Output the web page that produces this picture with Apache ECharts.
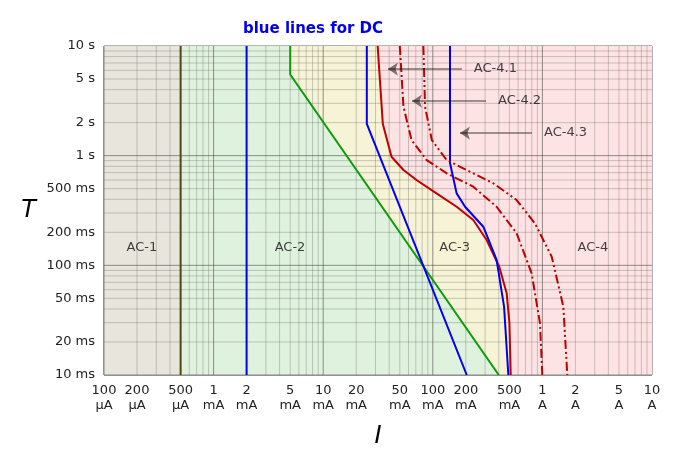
<!DOCTYPE html>
<html><head><meta charset="utf-8">
<script src="https://cdn.jsdelivr.net/npm/echarts@6/dist/echarts.min.js"></script>
<style>html,body{margin:0;background:#fff}#c{width:680px;height:458px}</style></head>
<body><div id="c"></div>
<script>
// current in mA, time in ms
const xTickVals = [0.1,0.2,0.5,1,2,5,10,20,50,100,200,500,1000,2000,5000,10000];
const xTickLabels = ['100\nµA','200\nµA','500\nµA','1\nmA','2\nmA','5\nmA','10\nmA','20\nmA','50\nmA','100\nmA','200\nmA','500\nmA','1\nA','2\nA','5\nA','10\nA'];
const yTickVals = [10,20,50,100,200,500,1000,2000,5000,10000];
const yTickLabels = ['10 ms','20 ms','50 ms','100 ms','200 ms','500 ms','1 s','2 s','5 s','10 s'];

const lineA = [[0.5,10],[0.5,10000]];
const curveB = [[5,10000],[5,5500],[400,10]];
const dcA = [[2,10],[2,10000]];
const dcB = [[25,10000],[25,1950],[204,10]];
const curveC1 = [[31.4,10000],[35,1940],[42,977],[54,740],[71,600],[108,453],[165,342],[234,259],[310,170],[404,97],[472,55.6],[500,30],[514,10]];
const dcC = [[143.5,10000],[143.5,856],[165,453],[197,342],[289,225],[382,112],[447,42],[489,10]];
const curveC2 = [[50,10000],[54,2793],[64,1387],[88,912],[134,690],[234,521],[382,342],[582,196],[798,84.6],[951,29.6],[998,10]];
const curveC3 = [[82,10000],[85,2793],[98,1387],[134,912],[204,740],[357,559],[582,394],[855,241],[1216,120],[1553,42],[1687,10]];

const zoneLabels = [['AC-1',0.222,144],['AC-2',4.98,144],['AC-3',158,144],['AC-4',2890,144]];
const arrows = [['AC-4.1',184,39,6155],['AC-4.2',306,64.6,3147],['AC-4.3',804,177,1607]];

const zoneColors = ['#e8e6dc','#dff2dd','#f7f3d6','#fde3e3'];
const zone1 = [[0.1,10],[0.5,10],[0.5,10000],[0.1,10000]];
const zone2 = [[0.5,10]].concat(curveB.slice().reverse()).concat([[0.5,10000]]);
const zone3 = curveB.concat(curveC1.slice().reverse());
const zone4 = curveC1.concat([[10000,10],[10000,10000]]);
const zones = [zone1,zone2,zone3,zone4];

const gridX=[], gridY=[];
for(let e=-1;e<4;e++) for(let m=1;m<10;m++) gridX.push(m*Math.pow(10,e));
for(let e=1;e<4;e++) for(let m=1;m<10;m++) gridY.push(m*Math.pow(10,e));

const chart = echarts.init(document.getElementById('c'));
const F='DejaVu Sans';
function ln(name,data,color,type){return {type:'line',data:data,symbol:'none',z:5,lineStyle:{color:color,width:2,type:type||'solid'},animation:false};}
chart.setOption({
  animation:false,
  title:{text:'blue lines for DC',left:308,top:17,textAlign:'center',textStyle:{color:'#0000ee',fontFamily:F,fontWeight:'bold',fontSize:15}},
  grid:{left:104,right:28,top:46,bottom:83,show:true,borderColor:'#666',borderWidth:1},
  xAxis:{type:'log',min:0.1,max:10000,name:'I',nameLocation:'middle',nameGap:50,
    nameTextStyle:{fontFamily:F,fontStyle:'italic',fontSize:24,color:'#000'},
    axisLine:{show:false},axisTick:{show:false},splitLine:{show:false},
    axisLabel:{customValues:xTickVals,fontFamily:F,fontSize:13,color:'#222',lineHeight:15,
      formatter:v=>{let i=0,b=1e9;xTickVals.forEach((t,k)=>{const d=Math.abs(Math.log10(t)-Math.log10(v));if(d<b){b=d;i=k;}});return xTickLabels[i];}}},
  yAxis:{type:'log',min:10,max:10000,name:'T',nameLocation:'middle',nameGap:68,nameRotate:0,
    nameTextStyle:{fontFamily:F,fontStyle:'italic',fontSize:24,color:'#000'},
    axisLine:{show:false},axisTick:{show:false},splitLine:{show:false},
    axisLabel:{customValues:yTickVals,fontFamily:F,fontSize:13,color:'#222',margin:9,
      formatter:v=>{let i=0,b=1e9;yTickVals.forEach((t,k)=>{const d=Math.abs(Math.log10(t)-Math.log10(v));if(d<b){b=d;i=k;}});return yTickLabels[i];}}},
  series:[
    {type:'custom',z:1,data:[0],silent:true,renderItem:(p,api)=>{
      const ch=[];
      zones.forEach((z,i)=>ch.push({type:'polygon',shape:{points:z.map(q=>api.coord(q))},style:{fill:zoneColors[i]}}));
      gridX.forEach(v=>{const a=api.coord([v,10]),b=api.coord([v,10000]);const maj=Math.abs(Math.log10(v)%1)<1e-9;
        ch.push({type:'line',shape:{x1:a[0],y1:a[1],x2:b[0],y2:b[1]},style:{stroke:maj?'rgba(60,60,60,0.55)':'rgba(90,90,90,0.3)',lineWidth:1}});});
      gridY.forEach(v=>{const a=api.coord([0.1,v]),b=api.coord([10000,v]);const maj=Math.abs(Math.log10(v)%1)<1e-9;
        ch.push({type:'line',shape:{x1:a[0],y1:a[1],x2:b[0],y2:b[1]},style:{stroke:maj?'rgba(60,60,60,0.55)':'rgba(90,90,90,0.3)',lineWidth:1}});});
      return {type:'group',children:ch};
    }},
    ln('a',lineA,'#4d4a17'),
    ln('b',curveB,'#0a9a0a'),
    ln('dca',dcA,'#0000ee'),
    ln('dcb',dcB,'#0000ee'),
    ln('c1',curveC1,'#c00000'),
    ln('dcc',dcC,'#0000ee'),
    ln('c2',curveC2,'#c00000',[9,3,2,3]),
    ln('c3',curveC3,'#c00000',[9,3,2,3,2,3]),
    {type:'lines',coordinateSystem:'cartesian2d',z:6,symbol:['arrow','none'],symbolSize:10,
      lineStyle:{color:'#000',width:1.5},data:arrows.map(a=>({coords:[[a[2],a[3]],[a[1],a[3]]]}))},
    {type:'scatter',z:7,symbolSize:0,data:arrows.map(a=>({value:[a[1],a[3]],name:a[0]})),
      label:{show:true,position:'right',distance:12,formatter:'{b}',fontFamily:F,fontSize:13,color:'#111'}},
    {type:'scatter',z:7,symbolSize:0,data:zoneLabels.map(a=>({value:[a[1],a[2]],name:a[0]})),
      label:{show:true,position:'inside',formatter:'{b}',fontFamily:F,fontSize:13,color:'#111'}}
  ]
});
</script></body></html>
